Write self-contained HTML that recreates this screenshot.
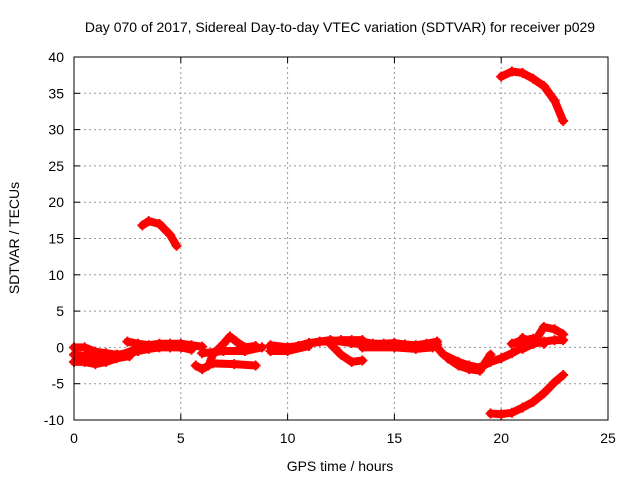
<!DOCTYPE html>
<html><head><meta charset="utf-8"><style>
body{margin:0;background:#fff;}
svg{display:block;font-family:"Liberation Sans",sans-serif;}
</style></head><body>
<svg id="chart" width="640" height="480">
<text x="340" y="32" font-size="14" text-anchor="middle">Day 070 of 2017, Sidereal Day-to-day VTEC variation (SDTVAR) for receiver p029</text>
<text x="340" y="471" font-size="14" text-anchor="middle">GPS time / hours</text>
<text x="19" y="238" font-size="14" text-anchor="middle" transform="rotate(-90 19 238)">SDTVAR / TECUs</text>
<g id="grid"></g><g id="series"></g>
<rect x="74" y="57" width="534" height="363" fill="none" stroke="#000"/>
</svg>
<script>
const xTicks=[0,5,10,15,20,25];
const yTicks=[-10,-5,0,5,10,15,20,25,30,35,40];
const s1=[[0,-2],[0.5,-2],[1,-2.3],[1.5,-2],[2,-1.5],[2.6,-1.2]];
const s2=[[0,0],[0.5,0],[1,-0.6],[1.5,-0.8],[2,-1],[2.6,-0.8]];
const s3=[[2.5,0.8],[3,0.5],[3.5,0.3],[4,0.5],[4.5,0.5],[5,0.5],[5.5,0.3],[6,0.1]];
const s4=[[2.6,-0.8],[3,-0.5],[3.5,-0.2],[4,0],[4.5,0],[5,0],[5.5,-0.3]];
const s5=[[5.7,-2.5],[6,-3],[6.3,-2.5],[6.5,-1],[7,0.5],[7.3,1.5],[7.6,0.8],[8,0],[8.5,0.2]];
const s6=[[6.5,-2.2],[7.5,-2.3],[8.5,-2.5]];
const s7=[[6,-0.8],[7,-0.5],[8,-0.5],[8.8,0]];
const s8=[[3.2,16.8],[3.5,17.4],[4,17],[4.5,15.5],[4.8,14]];
const s9=[[9.2,0.3],[10,0],[10.5,0.2],[11,0.5],[11.5,0.8],[12,0.8],[12.5,1],[13,1],[13.5,1]];
const s10=[[9.2,-0.5],[10,-0.5],[11,0.2]];
const s11=[[12,0.5],[12.5,-1],[13,-2],[13.5,-1.8]];
const s12=[[13.5,0.8],[14,0.5],[14.5,0.5],[15,0.6],[15.5,0.4],[16,0.3],[16.5,0.5],[17,0.8]];
const s13=[[13.5,0],[15,0],[16,-0.2],[16.8,0]];
const s14=[[17,0],[17.3,-1],[18,-2],[18.5,-2.5],[19,-2.8],[19.5,-2],[20,-1.5],[20.5,-0.8],[21,0]];
const s15=[[17.5,-1.5],[18,-2.5],[18.5,-3],[19,-3.2],[19.5,-1]];
const s16=[[20.5,0.5],[21,1],[21.5,1.2],[22,0.5]];
const s17=[[21,1.3],[21.5,0.5],[22,2.8],[22.5,2.5],[22.9,1.8]];
const s18=[[21,-0.2],[21.5,0.5],[22,0.8],[22.5,1],[22.9,1]];
const s19=[[19.5,-9.1],[20,-9.2],[20.5,-9],[21,-8.3],[21.5,-7.5],[22,-6.3],[22.5,-4.8],[22.9,-3.8]];
const s20=[[20,37.3],[20.5,38],[21,37.8],[21.5,37],[22,36],[22.5,34],[22.9,31.2]];
const s21=[[0,-1],[1,-1.4],[2,-1.2],[3,-0.2],[4,0.2],[5,0.2]];
const s22=[[9.2,0],[10,-0.2],[11,0.6],[12,1],[13,0.6],[14,0.3],[15,0.3],[16,0],[17,0.4]];
const allSeries=[s1,s2,s3,s4,s5,s6,s7,s8,s9,s10,s11,s12,s13,s14,s15,s16,s17,s18,s19,s20,s21,s22];
const X=v=>74+v*534/25, Y=v=>420-(v+10)*363/50;
const NS="http://www.w3.org/2000/svg";
const grid=document.getElementById('grid'), ser=document.getElementById('series');
function mk(tag,attrs,parent){const e=document.createElementNS(NS,tag);for(const k in attrs)e.setAttribute(k,attrs[k]);parent.appendChild(e);return e;}
xTicks.forEach(t=>{
  const x=X(t);
  if(t>0&&t<25){const g=mk('line',{x1:x,x2:x,y1:57,y2:420,stroke:'#999','stroke-dasharray':'2,3'},grid);
  
  }
  mk('line',{x1:x,x2:x,y1:420,y2:414,stroke:'#000'},grid);
  mk('line',{x1:x,x2:x,y1:57,y2:63,stroke:'#000'},grid);
  const l=mk('text',{x:x,y:443,'font-size':14,'text-anchor':'middle'},grid);l.textContent=t;
  
  
});
yTicks.forEach(t=>{
  const y=Y(t);
  if(t>-10&&t<40){const g=mk('line',{x1:74,x2:608,y1:y,y2:y,stroke:'#999','stroke-dasharray':'2,3'},grid);
  
  }
  mk('line',{x1:74,x2:80,y1:y,y2:y,stroke:'#000'},grid);
  mk('line',{x1:602,x2:608,y1:y,y2:y,stroke:'#000'},grid);
  const l=mk('text',{x:64,y:y+5,'font-size':14,'text-anchor':'end'},grid);l.textContent=t;
  
  
});
allSeries.forEach((s,i)=>{
  const p=mk('polyline',{points:s.map(d=>X(d[0])+','+Y(d[1])).join(' '),fill:'none',stroke:'#f00','stroke-width':8,'stroke-linejoin':'round','stroke-linecap':'round'},ser);
  
  
  s.forEach(d=>{
    const m=mk('path',{d:`M${X(d[0])-5},${Y(d[1])}h10M${X(d[0])},${Y(d[1])-5}v10`,stroke:'#f00','stroke-width':2},ser);
    
    
  });
});
</script>
</body></html>
